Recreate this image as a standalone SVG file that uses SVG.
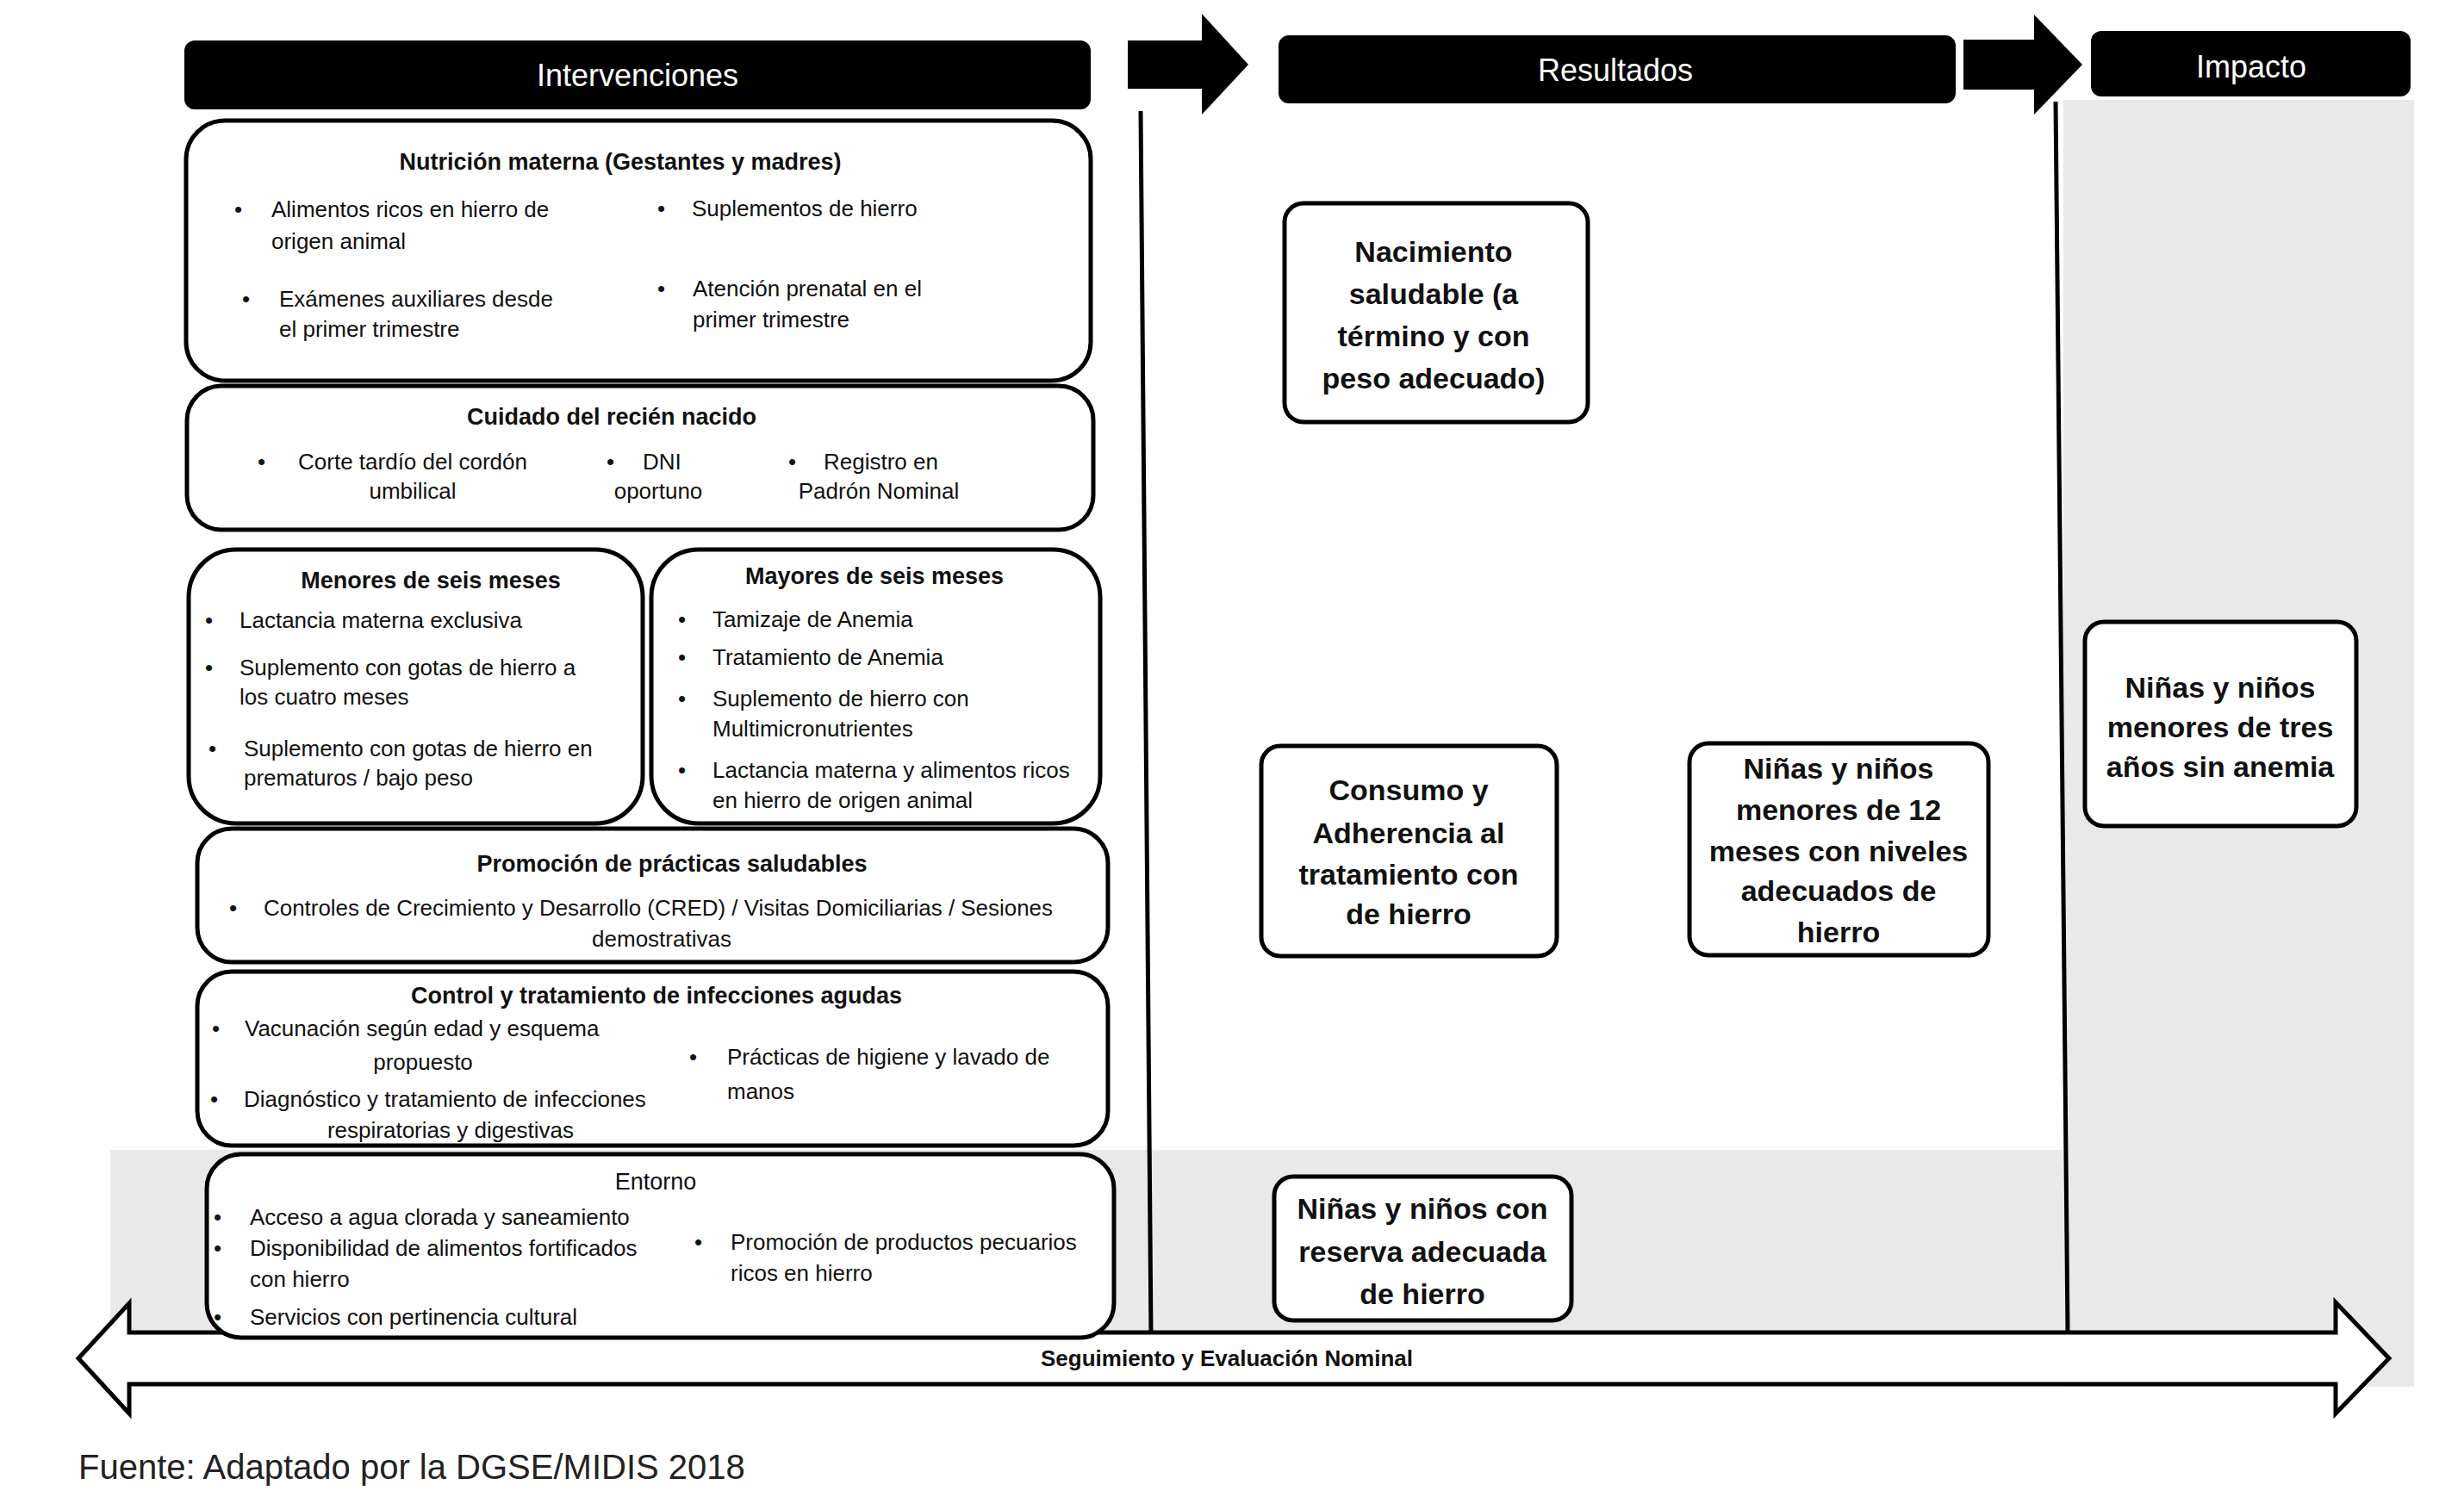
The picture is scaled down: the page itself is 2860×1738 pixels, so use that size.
<svg xmlns="http://www.w3.org/2000/svg" width="2860" height="1738" viewBox="0 0 2860 1738">
<style>
text{font-family:"Liberation Sans",Arial,sans-serif;fill:#111}
.hdr{fill:#000}
.ht{font-size:36px;fill:#fff;text-anchor:middle}
.box{fill:#fff;stroke:#000;stroke-width:5}
.ti{font-size:27px;font-weight:bold;text-anchor:middle}
.tr{font-size:27px;text-anchor:middle}
.b{font-size:26px}
.bm{font-size:26px;text-anchor:middle}
.r{font-size:34px;font-weight:bold;text-anchor:middle}
.ln{stroke:#000;stroke-width:5;fill:none}
.arr{fill:#000}
.stip{fill:#e9e9e9}
</style>
<rect width="2860" height="1738" fill="#fff"/>
<g id="background">
<rect class="stip" x="2395" y="116" width="407" height="1494"/>
<rect class="stip" x="128" y="1335" width="2267" height="220"/>
</g>
<g id="connectors">
<line class="ln" x1="1324" y1="129" x2="1336" y2="1550"/>
<line class="ln" x1="2386" y1="118" x2="2400" y2="1547"/>
<polygon class="arr" points="1309,47 1395,47 1395,16 1449,75 1395,133 1395,103 1309,103"/>
<polygon class="arr" points="2279,46 2361,46 2361,17 2417,75 2361,133 2361,104 2279,104"/>
<polygon fill="#fff" stroke="#000" stroke-width="5" points="91,1577 150,1513 150,1547 2711,1547 2711,1512 2773,1577 2711,1641 2711,1607 150,1607 150,1641"/>
<text x="1424" y="1586" style="font-size:26px;font-weight:bold;text-anchor:middle">Seguimiento y Evaluación Nominal</text>
</g>
<g id="h-intervenciones">
<rect class="hdr" x="214" y="47" width="1052" height="80" rx="12"/>
<text class="ht" x="740" y="100">Intervenciones</text>
</g>
<g id="h-resultados">
<rect class="hdr" x="1484" y="41" width="786" height="79" rx="12"/>
<text class="ht" x="1875" y="94">Resultados</text>
</g>
<g id="h-impacto">
<rect class="hdr" x="2427" y="36" width="371" height="76" rx="12"/>
<text class="ht" x="2613" y="90">Impacto</text>
</g>
<g id="nutricion">
<rect class="box" x="216" y="140" width="1050" height="302" rx="45"/>
<text class="ti" x="720" y="197">Nutrición materna (Gestantes y madres)</text>
<text class="b" x="272" y="252">•</text><text class="b" x="315" y="252">Alimentos ricos en hierro de</text>
<text class="b" x="315" y="289">origen animal</text>
<text class="b" x="763" y="251">•</text><text class="b" x="803" y="251">Suplementos de hierro</text>
<text class="b" x="281" y="356">•</text><text class="b" x="324" y="356">Exámenes auxiliares desde</text>
<text class="b" x="324" y="391">el primer trimestre</text>
<text class="b" x="763" y="344">•</text><text class="b" x="804" y="344">Atención prenatal en el</text>
<text class="b" x="804" y="380">primer trimestre</text>
</g>
<g id="recien-nacido">
<rect class="box" x="217" y="448" width="1052" height="167" rx="40"/>
<text class="ti" x="710" y="493">Cuidado del recién nacido</text>
<text class="b" x="299" y="545">•</text><text class="bm" x="479" y="545">Corte tardío del cordón</text>
<text class="bm" x="479" y="579">umbilical</text>
<text class="b" x="704" y="545">•</text><text class="b" x="746" y="545">DNI</text>
<text class="bm" x="764" y="579">oportuno</text>
<text class="b" x="915" y="545">•</text><text class="b" x="956" y="545">Registro en</text>
<text class="bm" x="1020" y="579">Padrón Nominal</text>
</g>
<g id="menores">
<rect class="box" x="219" y="638" width="527" height="318" rx="55"/>
<text class="ti" x="500" y="683">Menores de seis meses</text>
<text class="b" x="238" y="729">•</text><text class="b" x="278" y="729">Lactancia materna exclusiva</text>
<text class="b" x="238" y="784">•</text><text class="b" x="278" y="784">Suplemento con gotas de hierro a</text>
<text class="b" x="278" y="818">los cuatro meses</text>
<text class="b" x="242" y="878">•</text><text class="b" x="283" y="878">Suplemento con gotas de hierro en</text>
<text class="b" x="283" y="912">prematuros / bajo peso</text>
</g>
<g id="mayores">
<rect class="box" x="756" y="638" width="521" height="318" rx="55"/>
<text class="ti" x="1015" y="678">Mayores de seis meses</text>
<text class="b" x="787" y="728">•</text><text class="b" x="827" y="728">Tamizaje de Anemia</text>
<text class="b" x="787" y="772">•</text><text class="b" x="827" y="772">Tratamiento de Anemia</text>
<text class="b" x="787" y="820">•</text><text class="b" x="827" y="820">Suplemento de hierro con</text>
<text class="b" x="827" y="855">Multimicronutrientes</text>
<text class="b" x="787" y="903">•</text><text class="b" x="827" y="903">Lactancia materna y alimentos ricos</text>
<text class="b" x="827" y="938">en hierro de origen animal</text>
</g>
<g id="promocion">
<rect class="box" x="229" y="962" width="1057" height="155" rx="40"/>
<text class="ti" x="780" y="1012">Promoción de prácticas saludables</text>
<text class="b" x="266" y="1063">•</text><text class="b" x="306" y="1063" textLength="916" lengthAdjust="spacingAndGlyphs">Controles de Crecimiento y Desarrollo (CRED) / Visitas Domiciliarias / Sesiones</text>
<text class="bm" x="768" y="1099">demostrativas</text>
</g>
<g id="infecciones">
<rect class="box" x="229" y="1128" width="1057" height="202" rx="40"/>
<text class="ti" x="762" y="1165">Control y tratamiento de infecciones agudas</text>
<text class="b" x="246" y="1203">•</text><text class="b" x="284" y="1203">Vacunación según edad y esquema</text>
<text class="bm" x="491" y="1242">propuesto</text>
<text class="b" x="244" y="1285">•</text><text class="b" x="283" y="1285">Diagnóstico y tratamiento de infecciones</text>
<text class="bm" x="523" y="1321">respiratorias y digestivas</text>
<text class="b" x="800" y="1236">•</text><text class="b" x="844" y="1236">Prácticas de higiene y lavado de</text>
<text class="b" x="844" y="1276">manos</text>
</g>
<g id="entorno">
<rect class="box" x="240" y="1340" width="1053" height="213" rx="40"/>
<text class="tr" x="761" y="1381">Entorno</text>
<text class="b" x="248" y="1422">•</text><text class="b" x="290" y="1422">Acceso a agua clorada y saneamiento</text>
<text class="b" x="248" y="1458">•</text><text class="b" x="290" y="1458">Disponibilidad de alimentos fortificados</text>
<text class="b" x="290" y="1494">con hierro</text>
<text class="b" x="248" y="1538">•</text><text class="b" x="290" y="1538">Servicios con pertinencia cultural</text>
<text class="b" x="806" y="1451">•</text><text class="b" x="848" y="1451">Promoción de productos pecuarios</text>
<text class="b" x="848" y="1487">ricos en hierro</text>
</g>
<g id="nacimiento">
<rect class="box" x="1491" y="236" width="352" height="254" rx="22"/>
<text class="r" x="1664" y="304">Nacimiento</text>
<text class="r" x="1664" y="353">saludable (a</text>
<text class="r" x="1664" y="402">término y con</text>
<text class="r" x="1664" y="451">peso adecuado)</text>
</g>
<g id="consumo">
<rect class="box" x="1464" y="866" width="343" height="244" rx="22"/>
<text class="r" x="1635" y="929">Consumo y</text>
<text class="r" x="1635" y="979">Adherencia al</text>
<text class="r" x="1635" y="1027">tratamiento con</text>
<text class="r" x="1635" y="1073">de hierro</text>
</g>
<g id="ninos-12">
<rect class="box" x="1961" y="863" width="347" height="246" rx="22"/>
<text class="r" x="2134" y="904">Niñas y niños</text>
<text class="r" x="2134" y="952">menores de 12</text>
<text class="r" x="2134" y="1000">meses con niveles</text>
<text class="r" x="2134" y="1046">adecuados de</text>
<text class="r" x="2134" y="1094">hierro</text>
</g>
<g id="reserva">
<rect class="box" x="1479" y="1366" width="345" height="167" rx="22"/>
<text class="r" x="1651" y="1415">Niñas y niños con</text>
<text class="r" x="1651" y="1465">reserva adecuada</text>
<text class="r" x="1651" y="1514">de hierro</text>
</g>
<g id="impacto-box">
<rect class="box" x="2420" y="722" width="315" height="237" rx="22"/>
<text class="r" x="2577" y="810">Niñas y niños</text>
<text class="r" x="2577" y="856">menores de tres</text>
<text class="r" x="2577" y="902">años sin anemia</text>
</g>
<text x="91" y="1717" style="font-size:40px;fill:#222">Fuente: Adaptado por la DGSE/MIDIS 2018</text>
</svg>
